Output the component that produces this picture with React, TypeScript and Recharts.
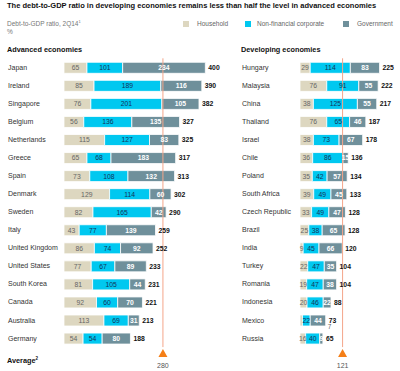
import React from 'react'
import { BarChart, Bar, XAxis, YAxis, ReferenceLine, LabelList } from 'recharts'

const advCountries = ['Japan', 'Ireland', 'Singapore', 'Belgium', 'Netherlands', 'Greece', 'Spain', 'Denmark', 'Sweden', 'Italy', 'United Kingdom', 'United States', 'South Korea', 'Canada', 'Australia', 'Germany']
const advHousehold = [65, 85, 76, 56, 115, 65, 73, 129, 82, 43, 86, 77, 81, 92, 113, 54]
const advCorporate = [101, 189, 201, 136, 127, 68, 108, 114, 165, 77, 74, 67, 105, 60, 69, 54]
const advGovernment = [234, 116, 105, 135, 83, 183, 132, 60, 42, 139, 92, 89, 44, 70, 31, 80]
const advTotal = [400, 390, 382, 327, 325, 317, 313, 302, 290, 259, 252, 233, 231, 221, 213, 188]
const advAverage = 280

const devCountries = ['Hungary', 'Malaysia', 'China', 'Thailand', 'Israel', 'Chile', 'Poland', 'South Africa', 'Czech Republic', 'Brazil', 'India', 'Turkey', 'Romania', 'Indonesia', 'Mexico', 'Russia']
const devHousehold = [29, 76, 38, 76, 38, 36, 35, 39, 33, 25, 9, 22, 19, 20, 7, 16]
const devCorporate = [114, 91, 125, 65, 73, 86, 42, 49, 49, 38, 45, 47, 47, 46, 22, 40]
const devGovernment = [83, 55, 55, 46, 67, 15, 57, 45, 47, 65, 66, 35, 38, 22, 44, 9]
const devTotal = [225, 222, 217, 187, 178, 136, 134, 133, 128, 128, 120, 104, 104, 88, 73, 65]
const devAverage = 121

const C_HH = '#DDD7C0'
const C_NFC = '#00C8F0'
const C_GOV = '#6F909B'
const C_AVG = '#F4A58A'
const FONT = '"Liberation Sans", Arial, sans-serif'

function build(countries: string[], hh: number[], nfc: number[], gov: number[], total: number[]) {
  return countries.map((c, i) => ({ country: c, hh: hh[i], nfc: nfc[i], gov: gov[i], total: total[i] }))
}

const advData = build(advCountries, advHousehold, advCorporate, advGovernment, advTotal)
const devData = build(devCountries, devHousehold, devCorporate, devGovernment, devTotal)

// segment value inside the bar; a sliver too thin for text gets its label under the row end
function segLabel(color: string, bold: boolean) {
  return (props: any) => {
    const { x, y, width, height, value } = props
    if (value == null) return null
    if (width < 3) {
      return (
        <text x={x + width + 27} y={y + height + 3} fontSize={6.5} fill="#666" fontFamily={FONT} textAnchor="middle">{value}</text>
      )
    }
    return (
      <text x={x + width / 2} y={y + height / 2 + 2.4} fontSize={6.8} fill={color} fontWeight={bold ? 'bold' : 'normal'} fontFamily={FONT} textAnchor="middle">
        {value}
      </text>
    )
  }
}

function totalLabel(props: any) {
  const { x, y, width, height, value } = props
  return (
    <text x={x + width + 3} y={y + height / 2 + 2.4} fontSize={6.8} fill="#111" fontWeight="bold" fontFamily={FONT}>{value}</text>
  )
}

function makeTick(offset: number) {
  return (props: any) => {
    const { y, payload } = props
    return (
      <text x={offset} y={y + 2.5} fontSize={7} fill="#333" fontFamily={FONT}>{payload.value}</text>
    )
  }
}

function AvgMarker(props: any) {
  const vb = props.viewBox || {}
  const cx = vb.x + (vb.width || 0) / 2
  const by = vb.y + vb.height
  return (
    <g>
      <polygon points={`${cx},${by + 2} ${cx - 4.5},${by + 10} ${cx + 4.5},${by + 10}`} fill="#F57F17" />
      <text x={cx} y={by + 21} fontSize={7} fill="#555" fontFamily={FONT} textAnchor="middle">{props.text}</text>
    </g>
  )
}

function Panel({ data, avg, width, axisW, max, right, tickX }: any) {
  return (
    <BarChart width={width} height={371} data={data} layout="vertical" margin={{ top: 58.3, right, left: 0, bottom: 23.9 }} barSize={11}>
      <XAxis type="number" hide domain={[0, max]} />
      <YAxis type="category" dataKey="country" width={axisW} axisLine={false} tickLine={false} interval={0} tick={makeTick(tickX)} />
      <Bar dataKey="hh" stackId="a" fill={C_HH} stroke="#fff" strokeWidth={0.8} isAnimationActive={false}>
        <LabelList dataKey="hh" content={segLabel('#666', false)} />
      </Bar>
      <Bar dataKey="nfc" stackId="a" fill={C_NFC} stroke="#fff" strokeWidth={0.8} isAnimationActive={false}>
        <LabelList dataKey="nfc" content={segLabel('#12335a', false)} />
      </Bar>
      <Bar dataKey="gov" stackId="a" fill={C_GOV} stroke="#fff" strokeWidth={0.8} isAnimationActive={false}>
        <LabelList dataKey="gov" content={segLabel('#fff', true)} />
        <LabelList dataKey="total" content={totalLabel} />
      </Bar>
      <ReferenceLine x={avg} stroke={C_AVG} strokeWidth={1} label={<AvgMarker text={String(avg)} />} />
    </BarChart>
  )
}

export default function App() {
  const text = { position: 'absolute' as const, fontFamily: FONT, lineHeight: 1, whiteSpace: 'nowrap' as const }
  return (
    <div style={{ position: 'absolute', left: 0, top: 0, width: 400, height: 371, background: '#fff', overflow: 'hidden' }}>
      <div style={{ ...text, left: 7, top: 2, fontSize: 7.5, fontWeight: 'bold', color: '#111' }}>
        The debt-to-GDP ratio in developing economies remains less than half the level in advanced economies
      </div>
      <div style={{ ...text, left: 7, top: 20, fontSize: 6.5, color: '#777' }}>
        Debt-to-GDP ratio, 2Q14<sup style={{ fontSize: 4 }}>1</sup>
      </div>
      <div style={{ ...text, left: 7, top: 29, fontSize: 6.5, color: '#777' }}>%</div>
      <div style={{ position: 'absolute', left: 183, top: 21, width: 6, height: 6, background: C_HH }} />
      <div style={{ ...text, left: 197, top: 20.5, fontSize: 6.5, color: '#666' }}>Household</div>
      <div style={{ position: 'absolute', left: 245, top: 21, width: 6, height: 6, background: C_NFC }} />
      <div style={{ ...text, left: 257, top: 20.5, fontSize: 6.5, color: '#666' }}>Non-financial corporate</div>
      <div style={{ position: 'absolute', left: 343, top: 21, width: 6, height: 6, background: C_GOV }} />
      <div style={{ ...text, left: 357, top: 20.5, fontSize: 6.5, color: '#666' }}>Government</div>
      <div style={{ ...text, left: 7, top: 46, fontSize: 7.3, fontWeight: 'bold', color: '#111' }}>Advanced economies</div>
      <div style={{ ...text, left: 241, top: 46, fontSize: 7.3, fontWeight: 'bold', color: '#111' }}>Developing economies</div>
      <div style={{ ...text, left: 7, top: 357, fontSize: 7.3, fontWeight: 'bold', color: '#111' }}>
        Average<sup style={{ fontSize: 4.5 }}>2</sup>
      </div>
      <div style={{ position: 'absolute', left: 0, top: 0 }}>
        <Panel data={advData} avg={advAverage} width={245} axisW={64} max={450} right={22} tickX={8} />
      </div>
      <div style={{ position: 'absolute', left: 200, top: 0 }}>
        <Panel data={devData} avg={devAverage} width={200} axisW={100} max={250} right={12} tickX={42} />
      </div>
    </div>
  )
}
